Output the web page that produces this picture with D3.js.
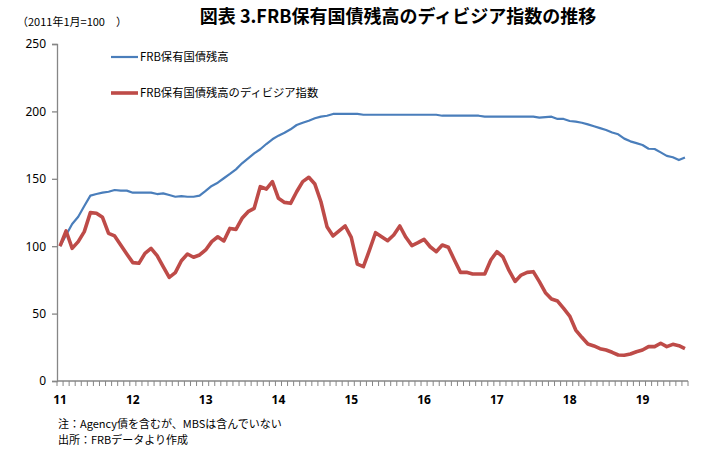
<!DOCTYPE html>
<html><head><meta charset="utf-8">
<script src="https://cdn.jsdelivr.net/npm/d3@7"></script>
<style>body{margin:0;background:#fff;}svg{display:block;font-family:"Noto Sans CJK JP","Noto Sans",sans-serif;}</style>
</head><body>
<svg id="c" width="719" height="450"></svg>
<script>
const title = "図表 3.FRB保有国債残高のディビジア指数の推移";
const unitLabel = "（2011年1月=100　）";
const seriesNames = ["FRB保有国債残高", "FRB保有国債残高のディビジア指数"];
const yearLabels = ["11","12","13","14","15","16","17","18","19"];
const yTicks = [0,50,100,150,200,250];
const notes = ["注：Agency債を含むが、MBSは含んでいない", "出所：FRBデータより作成"];
// monthly, Jan 2011 .. Aug 2019
const holdings = [
 100,108.3,116.5,121.9,129.8,137.5,138.7,139.7,140.4,141.7,141.2,141.2,
 139.7,139.7,139.7,139.7,138.7,139.2,138.0,136.7,137.2,136.7,136.7,137.5,
 141.0,144.7,147.1,150.4,153.6,157.0,161.5,165.2,168.9,171.9,175.8,179.3,
 182.0,184.2,186.7,189.9,191.6,193.1,194.9,196.1,196.8,198.1,198.1,198.1,
 198.1,198.1,197.5,197.5,197.5,197.5,197.5,197.5,197.5,197.5,197.5,197.5,
 197.5,197.5,197.5,196.8,196.8,196.8,196.8,196.8,196.8,196.8,196.1,196.1,
 196.1,196.1,196.1,196.1,196.1,196.1,196.1,195.4,195.8,196.1,194.4,194.4,
 192.9,192.4,191.6,190.4,189.0,187.6,186.2,184.3,183.0,179.8,177.8,176.5,
 175.1,172.3,172.1,169.6,167.0,166.0,163.9,165.8
];
const divisia = [
 100,111.3,98.4,103.4,110.8,124.9,124.4,121.4,109.5,107.6,100.9,94.2,
 87.8,87.3,94.7,98.4,93.0,84.8,76.9,80.4,89.2,94.2,91.8,93.5,
 97.2,103.4,107.0,103.9,113.2,112.5,120.7,125.6,128.1,144.2,142.4,147.9,
 135.5,132.5,131.8,140.4,147.9,151.1,146.1,133.0,114.5,107.6,111.3,115.0,
 106.5,86.7,84.8,97.0,110.0,107.0,104.1,108.3,115.0,106.6,100.4,102.6,
 105.1,99.6,95.9,100.9,99.2,89.8,80.6,80.6,79.4,79.4,79.4,89.8,
 95.9,92.0,82.0,73.9,78.6,80.6,81.1,73.7,65.5,60.8,59.3,53.9,
 48.2,37.8,32.4,27.4,26.0,24.0,23.0,21.3,19.3,19.1,20.0,21.7,
 23.0,25.5,25.5,28.0,25.5,27.2,26.2,24.0
];

const svg = d3.select("#c");
const n = holdings.length;
const x = d3.scaleBand().domain(d3.range(n)).range([57, 688]);
const cx = i => x(i) + x.bandwidth()/2;
const y = d3.scaleLinear().domain([0,250]).range([381, 44]);
const axisColor = "#868686";

// Title
svg.append("text").attr("x", 398).attr("y", 23).attr("text-anchor","middle")
  .attr("font-size", 18).attr("font-weight","bold").attr("fill","#000").text(title);
svg.append("text").attr("x", 17).attr("y", 26).attr("font-size", 11).attr("fill","#000").text(unitLabel);

// Y axis
const yAxis = d3.axisLeft(y).tickValues(yTicks).tickSize(5).tickPadding(6);
const gy = svg.append("g").attr("transform","translate(57,0)").call(yAxis);
gy.select(".domain").attr("stroke", axisColor).attr("stroke-width",1.3);
gy.selectAll(".tick line").attr("stroke", axisColor).attr("stroke-width",1.3);
gy.selectAll(".tick text").attr("font-size", 12).attr("fill","#000").attr("font-family","'Noto Sans','DejaVu Sans',sans-serif");

// X axis line + monthly ticks at band boundaries
const gx = svg.append("g");
gx.append("line").attr("x1",57).attr("x2",688).attr("y1",y(0)).attr("y2",y(0))
  .attr("stroke",axisColor).attr("stroke-width",1.3);
gx.selectAll(".mt").data(d3.range(n+1)).join("line")
  .attr("x1", i => i < n ? x(i) : x(n-1)+x.bandwidth())
  .attr("x2", i => i < n ? x(i) : x(n-1)+x.bandwidth())
  .attr("y1", y(0)).attr("y2", y(0)+5)
  .attr("stroke",axisColor).attr("stroke-width",1);
gx.selectAll(".yl").data(yearLabels).join("text")
  .attr("x", (d,k) => cx(k*12)).attr("y", 404).attr("text-anchor","middle")
  .attr("font-size", 12).attr("font-weight","bold").attr("fill","#000")
  .attr("font-family","'Noto Sans','DejaVu Sans',sans-serif").text(d => d);

// Lines
const line = d3.line().x((d,i) => cx(i)).y(d => y(d));
svg.append("path").datum(holdings).attr("d", line).attr("fill","none")
  .attr("stroke","#4a7ebb").attr("stroke-width",2.2).attr("stroke-linejoin","round");
svg.append("path").datum(divisia).attr("d", line).attr("fill","none")
  .attr("stroke","#be4b48").attr("stroke-width",3.6).attr("stroke-linejoin","round");

// Legend
const leg = [{c:"#4a7ebb",w:2.2,yy:57},{c:"#be4b48",w:3.6,yy:93}];
leg.forEach((l,k) => {
  svg.append("line").attr("x1",111).attr("x2",138).attr("y1",l.yy).attr("y2",l.yy)
    .attr("stroke",l.c).attr("stroke-width",l.w);
  svg.append("text").attr("x",140).attr("y",l.yy+4).attr("font-size",11.3).attr("fill","#000").text(seriesNames[k]);
});

// Notes
notes.forEach((t,k) => {
  svg.append("text").attr("x",58).attr("y",428+k*16).attr("font-size",11).attr("fill","#000").text(t);
});
</script>
</body></html>
